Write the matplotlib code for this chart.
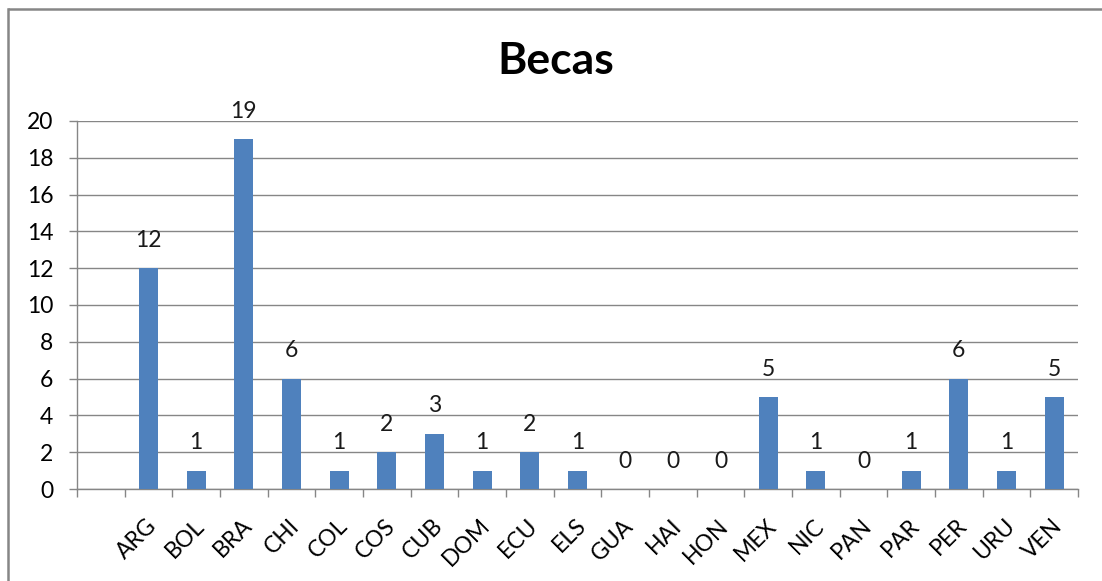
import matplotlib
matplotlib.use("Agg")
import matplotlib.pyplot as plt
from matplotlib.lines import Line2D
from matplotlib.transforms import ScaledTranslation
import numpy as np

# Scholarship counts per country (first slot of the category axis is left blank)
categories = ["", "ARG", "BOL", "BRA", "CHI", "COL", "COS", "CUB", "DOM", "ECU",
              "ELS", "GUA", "HAI", "HON", "MEX", "NIC", "PAN", "PAR", "PER",
              "URU", "VEN"]
becas = [None, 12, 1, 19, 6, 1, 2, 3, 1, 2, 1, 0, 0, 0, 5, 1, 0, 1, 6, 1, 5]
y_ticks = list(range(0, 21, 2))
title = "Becas"

plt.rcParams["font.family"] = ["Lato", "DejaVu Sans"]

W, H = 1102, 581
fig = plt.figure(figsize=(W / 100, H / 100), dpi=100)
fig.patch.set_facecolor("white")

ax = fig.add_axes([77 / W, 1 - 489 / H, (1078 - 77) / W, (489 - 121) / H])

grey = "#868686"
bar_color = "#4F81BD"
fs = 16.5

x = np.arange(len(categories))
idx = [i for i, v in enumerate(becas) if v is not None]
vals = [becas[i] for i in idx]
ax.bar(idx, vals, width=0.4, color=bar_color, zorder=3)

for i, v in zip(idx, vals):
    ax.annotate(str(v), xy=(i, v), xytext=(0, 12.5), textcoords="offset points",
                ha="center", va="bottom", fontsize=fs, color="#1a1a1a")

ax.set_xlim(-0.5, len(categories) - 0.5)
ax.set_ylim(0, 20)

ax.set_yticks(y_ticks)
ax.set_yticklabels([str(t) for t in y_ticks], fontsize=fs)
ax.yaxis.grid(True, color=grey, linewidth=1.0, zorder=0)
ax.set_axisbelow(True)

# category boundaries carry the tick marks, centres carry the labels
ax.set_xticks(np.arange(-0.5, len(categories), 1.0))
ax.set_xticklabels([])
ax.set_xticks(x, minor=True)
ax.set_xticklabels(categories, minor=True, rotation=45, ha="right",
                   va="center", rotation_mode="anchor", fontsize=fs)
ax.tick_params(axis="x", which="minor", length=0, pad=24)
ax.tick_params(axis="x", which="major", length=6, width=1, color=grey)
ax.tick_params(axis="y", length=6, width=1, color=grey, pad=11)

shift = ScaledTranslation(5 / 100, 0, fig.dpi_scale_trans)
for lbl in ax.get_xticklabels(minor=True):
    lbl.set_transform(lbl.get_transform() + shift)

for s in ["top", "right"]:
    ax.spines[s].set_visible(False)
for s in ["left", "bottom"]:
    ax.spines[s].set_color(grey)
    ax.spines[s].set_linewidth(1.0)

fig.text(556 / W, 1 - 61 / H, title, ha="center", va="center",
         fontsize=32, fontweight="bold")

# chart-area frame (top and left edges)
top_y = 1 - 9 / H
left_x = 8 / W
fig.add_artist(Line2D([left_x, 1.0], [top_y, top_y], transform=fig.transFigure,
                      color=grey, linewidth=1.8, solid_capstyle="butt"))
fig.add_artist(Line2D([left_x, left_x], [0.0, top_y], transform=fig.transFigure,
                      color=grey, linewidth=1.8, solid_capstyle="projecting"))

fig.savefig("out.png", dpi=100, facecolor="white")
